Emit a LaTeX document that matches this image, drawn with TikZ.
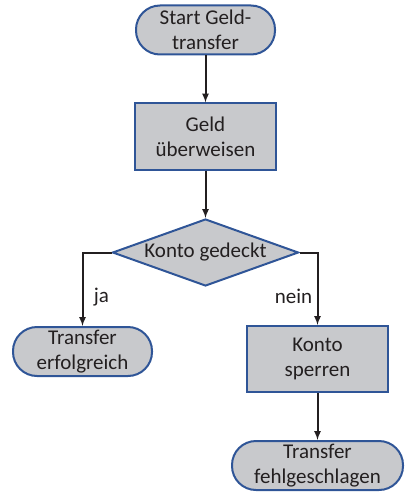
\documentclass[tikz,border=0pt]{standalone}
\usepackage{fontspec}
\setmainfont{Carlito}
\usetikzlibrary{shapes.geometric, arrows}
\definecolor{boxgray}{RGB}{200,201,204}
\definecolor{edgeblue}{RGB}{47,85,151}
\definecolor{textgray}{RGB}{35,31,32}

\begin{document}
\begin{tikzpicture}[x=1pt, y=1pt, node distance=106.5pt, every node/.style={font=\fontsize{21}{25}\selectfont, text=textgray}]
% Define styles
\tikzstyle{startstop} = [rectangle, rounded corners=24pt, minimum width=139pt, minimum height=49pt, inner sep=2pt, align=center, draw=edgeblue, line width=2pt, fill=boxgray]
\tikzstyle{process} = [rectangle, minimum width=141pt, minimum height=66pt, align=center, draw=edgeblue, line width=2pt, fill=boxgray]
\tikzstyle{decision} = [diamond, aspect=2.8, inner sep=0pt, minimum width=186pt, minimum height=67pt, align=center, draw=edgeblue, line width=2pt, fill=boxgray]
\tikzstyle{arrow} = [line width=2pt, ->, >=latex, draw=textgray]
\useasboundingbox (0,0) rectangle (404,-492);
% Place nodes
\node (start) [startstop] at (205.5,-30) {Start Geld-\\transfer};
\node (b0) [process, below of=start] {Geld\\überweisen};
\node (b1) [decision, below of=b0, yshift=-9.5pt] {Konto gedeckt};
\node (ok) [startstop, below of=b1, xshift=-123pt, yshift=7.5pt] {Transfer\\erfolgreich};
\node (b2) [process, below of=b1, xshift=112pt] {Konto\\sperren};
\node (fail) [startstop, minimum width=171pt, below of=b2] {Transfer\\fehlgeschlagen};
% Draw arrows
\draw [arrow] (start) -- (b0);
\draw [arrow] (b0) -- (b1);
\draw [arrow] (b1.west) -| node[pos=0.8, right, xshift=7pt] {ja} (ok);
\draw [arrow] (b1.east) -| node[pos=0.8, left, xshift=-1pt] {nein} (b2);
\draw [arrow] (b2) -- (fail);
\end{tikzpicture}
\end{document}
